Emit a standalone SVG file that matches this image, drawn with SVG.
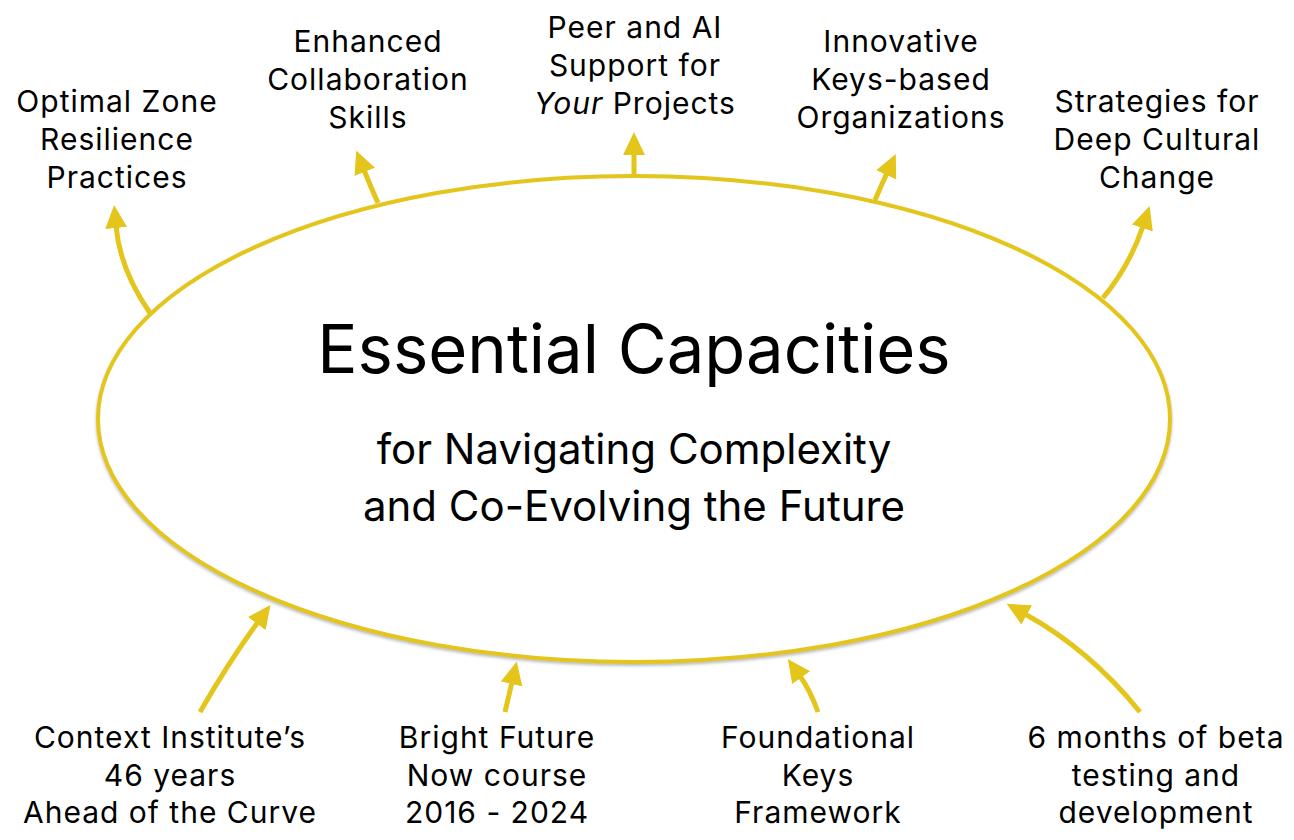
<svg xmlns="http://www.w3.org/2000/svg" width="1294" height="840" viewBox="0 0 1294 840">
<style>
.lbl{font-family:Inter,"Liberation Sans",sans-serif;font-size:30px;letter-spacing:1px;fill:#000;text-anchor:middle}
.title{font-family:Inter,"Liberation Sans",sans-serif;font-size:67px;fill:#000;text-anchor:middle}
.sub{font-family:Inter,"Liberation Sans",sans-serif;font-size:42px;fill:#000;text-anchor:middle}
.arr{fill:none;stroke:#E3C51B;stroke-width:5;marker-end:url(#ah)}
</style>
<defs>
<marker id="ah" markerUnits="userSpaceOnUse" viewBox="0 0 24 24" markerWidth="24" markerHeight="24" refX="2" refY="12" orient="auto">
<path d="M0,1 L23,12 L0,23 z" fill="#E3C51B"/>
</marker>
<filter id="sh" x="-5%" y="-5%" width="110%" height="115%">
<feDropShadow dx="0" dy="2" stdDeviation="1.5" flood-color="#777" flood-opacity="0.5"/>
</filter>
</defs>
<rect width="1294" height="840" fill="#fff"/>
<g id="center">
<ellipse cx="634" cy="419" rx="536" ry="243" fill="#fff" stroke="#E3C51B" stroke-width="4" filter="url(#sh)"/>
<text class="title" x="634" y="373">Essential Capacities</text>
<text class="sub" x="634" y="464">for Navigating Complexity</text>
<text class="sub" x="634" y="521">and Co-Evolving the Future</text>
</g>
<g id="connectors">
<path class="arr" d="M150,313 Q120,270 116,226"/>
<path class="arr" d="M378,203 Q370,185 364,170"/>
<path class="arr" d="M634,175 L634,153"/>
<path class="arr" d="M875,200 Q881,186 887,173"/>
<path class="arr" d="M1103,298 Q1130,265 1143,226"/>
<path class="arr" d="M200,712 Q230,660 258,622"/>
<path class="arr" d="M505,712 L512,682"/>
<path class="arr" d="M818,712 Q810,690 800,676"/>
<path class="arr" d="M1140,712 Q1090,650 1025,614"/>
</g>
<g id="optimal"><text class="lbl" x="117" y="112">Optimal Zone</text><text class="lbl" x="117" y="150">Resilience</text><text class="lbl" x="117" y="188">Practices</text></g>
<g id="enhanced"><text class="lbl" x="368" y="52">Enhanced</text><text class="lbl" x="368" y="90">Collaboration</text><text class="lbl" x="368" y="128">Skills</text></g>
<g id="peer"><text class="lbl" x="635" y="38">Peer and AI</text><text class="lbl" x="635" y="76">Support for</text><text class="lbl" x="635" y="114"><tspan font-style="italic">Your</tspan> Projects</text></g>
<g id="innovative"><text class="lbl" x="901" y="52">Innovative</text><text class="lbl" x="901" y="90">Keys-based</text><text class="lbl" x="901" y="128">Organizations</text></g>
<g id="strategies"><text class="lbl" x="1157" y="112">Strategies for</text><text class="lbl" x="1157" y="150">Deep Cultural</text><text class="lbl" x="1157" y="188">Change</text></g>
<g id="context"><text class="lbl" x="170" y="748">Context Institute’s</text><text class="lbl" x="170" y="786">46 years</text><text class="lbl" x="170" y="823">Ahead of the Curve</text></g>
<g id="bright"><text class="lbl" x="497" y="748">Bright Future</text><text class="lbl" x="497" y="786">Now course</text><text class="lbl" x="497" y="823">2016 - 2024</text></g>
<g id="foundational"><text class="lbl" x="818" y="748">Foundational</text><text class="lbl" x="818" y="786">Keys</text><text class="lbl" x="818" y="823">Framework</text></g>
<g id="months"><text class="lbl" x="1156" y="748">6 months of beta</text><text class="lbl" x="1156" y="786">testing and</text><text class="lbl" x="1156" y="823">development</text></g>
</svg>
